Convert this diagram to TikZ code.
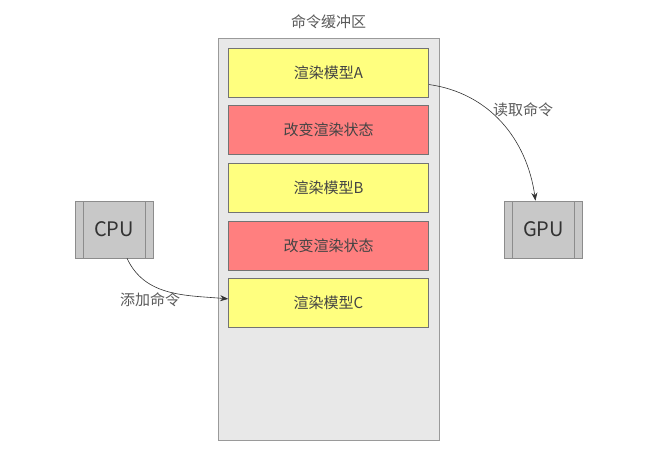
\documentclass[tikz,border=0pt]{standalone}
\usepackage{fontspec}
\setmainfont{Noto Sans CJK SC}
\usetikzlibrary{positioning,arrows.meta}

\definecolor{bufgray}{HTML}{E8E8E8}
\definecolor{bufline}{HTML}{9A9A9A}
\definecolor{cmdyellow}{HTML}{FFFF7F}
\definecolor{cmdred}{HTML}{FF7F7F}
\definecolor{procgray}{HTML}{C8C8C8}
\definecolor{txtgray}{HTML}{444444}

\begin{document}
\begin{tikzpicture}[
    x=1pt, y=-1pt,
    buffer/.style={draw=bufline, fill=bufgray, line width=0.8pt,
                   minimum width=221pt, minimum height=402pt},
    cmd/.style={draw=black!55, line width=0.6pt, minimum width=200pt,
                minimum height=49pt, text=txtgray, font=\fontsize{15}{17}\selectfont},
    proc/.style={draw=black!45, fill=procgray, line width=0.6pt,
                 minimum width=78pt, minimum height=57pt, text=black!80,
                 font=\fontsize{20}{23}\selectfont,
                 path picture={
                   \draw[black!45, line width=0.6pt]
                     ([xshift=8pt]path picture bounding box.north west) --
                     ([xshift=8pt]path picture bounding box.south west)
                     ([xshift=-8pt]path picture bounding box.north east) --
                     ([xshift=-8pt]path picture bounding box.south east);}},
    flow/.style={black!80, line width=0.6pt, -{Stealth[length=8pt,width=6pt]}},
    lbl/.style={text=black!65, font=\fontsize{15}{17}\selectfont}
]

\useasboundingbox (0,0) rectangle (649,452);

% ---------- command buffer ----------
\node[buffer] (buf) at (328.5,239) {};
\node[lbl, above=5pt of buf] (title) {命令缓冲区};

% ---------- commands ----------
\node[cmd, fill=cmdyellow] (drawA) at (328.5,72.5) {渲染模型A};
\node[cmd, fill=cmdred, below=8pt of drawA] (stateA) {改变渲染状态};
\node[cmd, fill=cmdyellow, below=8pt of stateA] (drawB) {渲染模型B};
\node[cmd, fill=cmdred, below=8pt of drawB] (stateB) {改变渲染状态};
\node[cmd, fill=cmdyellow, below=8pt of stateB] (drawC) {渲染模型C};

% ---------- processors ----------
\node[proc] (cpu) at (114,229.5) {CPU};
\node[proc] (gpu) at (543.5,229.5) {GPU};

% ---------- add / read ----------
\draw[flow] ([xshift=13pt]cpu.south) to[out=-65, in=175]
  ([yshift=4pt]drawC.west);
\node[lbl] (addcmd) at (150,300) {添加命令};

\draw[flow] ([yshift=-12pt]drawA.east) to[out=-8, in=98]
  ([xshift=-8pt]gpu.north);
\node[lbl] (readcmd) at (523,110) {读取命令};

\end{tikzpicture}
\end{document}
